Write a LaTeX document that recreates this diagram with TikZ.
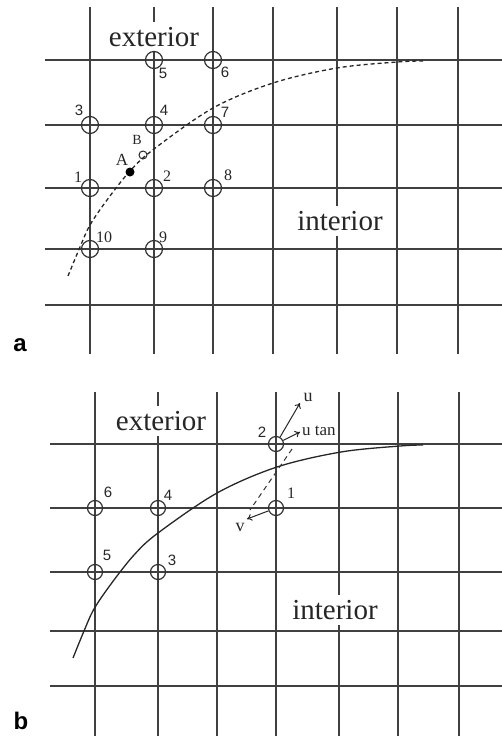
\documentclass[tikz,border=0pt]{standalone}
\usepackage{fontspec}
\setmainfont{Liberation Serif}
\newfontfamily\lsans{Liberation Sans}
\usetikzlibrary{arrows.meta}
\begin{document}
\begin{tikzpicture}[x=1pt,y=-1pt,
  gridline/.style={line width=1.5pt, draw=black!75},
  gpt/.style={circle, draw=black!80, line width=1.2pt, minimum size=17pt, inner sep=0pt},
  gptb/.style={gpt, minimum size=15pt},
  labr/.style={font=\fontsize{16}{19}\selectfont, inner sep=0pt, text=black!85},
  labs/.style={font=\lsans\fontsize{15}{18}\selectfont, inner sep=0pt, text=black!85},
  region/.style={font=\fontsize{29}{34}\selectfont, fill=white, inner sep=5pt, text=black!85},
  panel/.style={font=\lsans\bfseries\fontsize{24}{29}\selectfont, inner sep=0pt},
  vec/.style={-{To[length=5pt,width=7pt]}, line width=1pt, draw=black!85},
  curveline/.style={line width=1.3pt, draw=black!85},
  dashcurve/.style={curveline, dash pattern=on 4pt off 3pt},
  dashline/.style={line width=1pt, draw=black!80, dash pattern=on 5pt off 4pt}
]
\useasboundingbox (0,0) rectangle (502,736);
% ---------- panel a ----------
\foreach \x in {90,154,213,273,337,397,458} \draw[gridline] (\x,7) -- (\x,354);
\foreach \y in {60,125,188,249,305} \draw[gridline] (45,\y) -- (502,\y);
\node[region] (extA) at (154,37) {exterior};
\node[region] (intA) at (340,221) {interior};
\draw[dashcurve] plot[smooth, tension=0.55] coordinates {(68,276) (80,247) (90,225) (107,200) (130,171) (154,149) (213,108) (273,83) (337,68) (397,62) (423,61)};
\node[gpt] (a1) at (90,188) {};
\node[gpt] (a2) at (154,188) {};
\node[gpt] (a3) at (90,125) {};
\node[gpt] (a4) at (154,125) {};
\node[gpt] (a5) at (154,60) {};
\node[gpt] (a6) at (213,60) {};
\node[gpt] (a7) at (213,125) {};
\node[gpt] (a8) at (213,188) {};
\node[gpt] (a9) at (154,249) {};
\node[gpt] (a10) at (90,249) {};
\node[labs] (la5) at (163,73) {5};
\node[labs] (la6) at (225,72) {6};
\node[labs] (la3) at (79,110) {3};
\node[labs] (la4) at (164,110) {4};
\node[labs] (la7) at (225,112) {7};
\node[labr] (la1) at (78,177) {1};
\node[labr] (la2) at (167,176) {2};
\node[labr] (la8) at (228,175) {8};
\node[labr] (la10) at (104,237) {10};
\node[labr] (la9) at (163,237) {9};
\node[circle, fill=black, inner sep=0pt, minimum size=9pt] (ptA) at (130,172) {};
\node[circle, draw=black!85, line width=1pt, inner sep=0pt, minimum size=8pt] (ptB) at (143,155) {};
\node[labr, font=\fontsize{17}{20}\selectfont] (lA) at (122,160) {A};
\node[labr, font=\fontsize{14}{17}\selectfont] (lB) at (137,140) {B};
\node[panel] (pa) at (20,345) {a};
% ---------- panel b ----------
\foreach \x in {95,158,217,276,339,398,459} \draw[gridline] (\x,392) -- (\x,736);
\foreach \y in {444,508,572,631,686} \draw[gridline] (50,\y) -- (502,\y);
\node[region] (extB) at (161,421) {exterior};
\node[region] (intB) at (335,610) {interior};
\draw[curveline] plot[smooth, tension=0.55] coordinates {(73,658) (84,631) (94,609) (111,584) (134,555) (158,533) (217,493) (277,467) (341,452) (400,446) (423,445)};
\node[gptb] (b6) at (95,508) {};
\node[gptb] (b4) at (158,508) {};
\node[gptb] (b5) at (95,572) {};
\node[gptb] (b3) at (158,572) {};
\node[gptb] (b2) at (276,444) {};
\node[gptb] (b1) at (276,508) {};
\node[labs] (lb6) at (108,492) {6};
\node[labs] (lb4) at (168,495) {4};
\node[labs] (lb5) at (107,555) {5};
\node[labs] (lb3) at (172,560) {3};
\node[labs] (lb2) at (262,432) {2};
\node[labr] (lb1) at (291,493) {1};
\coordinate (uend) at (300,403);
\coordinate (utend) at (300,432);
\coordinate (vend) at (247,519);
\coordinate (d1) at (292,449);
\coordinate (d2) at (250,510);
\draw[vec] (b2) -- (uend);
\draw[vec] (b2) -- (utend);
\draw[vec] (b1) -- (vend);
\draw[dashline] (d1) -- (d2);
\node[labr, font=\fontsize{18}{21}\selectfont] (lu) at (308,397) {u};
\node[labr, font=\fontsize{17}{20}\selectfont, anchor=west] (lut) at (302,431) {u tan};
\node[labr, font=\fontsize{18}{21}\selectfont] (lv) at (240,527) {v};
\node[panel] (pb) at (21,721) {b};
\end{tikzpicture}
\end{document}
